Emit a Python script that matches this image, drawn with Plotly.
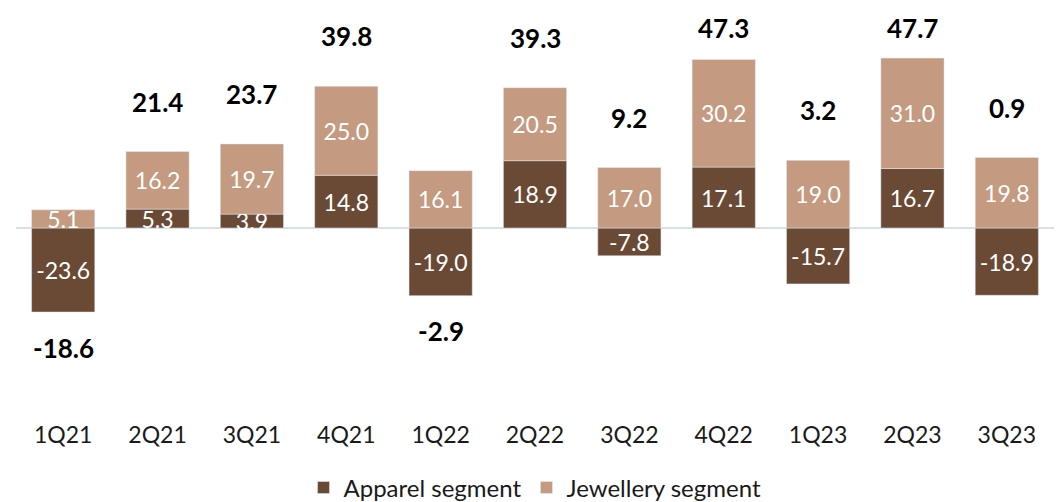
import plotly.graph_objects as go

quarters = ["1Q21", "2Q21", "3Q21", "4Q21", "1Q22", "2Q22", "3Q22", "4Q22", "1Q23", "2Q23", "3Q23"]
apparel = [-23.6, 5.3, 3.9, 14.8, -19.0, 18.9, -7.8, 17.1, -15.7, 16.7, -18.9]
jewellery = [5.1, 16.2, 19.7, 25.0, 16.1, 20.5, 17.0, 30.2, 19.0, 31.0, 19.8]
totals = [-18.6, 21.4, 23.7, 39.8, -2.9, 39.3, 9.2, 47.3, 3.2, 47.7, 0.9]

DARK = "#6B4A35"
LIGHT = "#C49A80"
FONT = "Lato"
Y_MIN, Y_MAX = -52.5, 61.2

fig = go.Figure()
fig.add_trace(go.Bar(
    x=quarters, y=apparel, name="Apparel segment", marker_color=DARK,
    texttemplate="%{y:.1f}", textposition="inside", insidetextanchor="middle",
    textfont=dict(color="white", size=23, family=FONT), constraintext="none",
    hoverinfo="x+y",
))
fig.add_trace(go.Bar(
    x=quarters, y=jewellery, name="Jewellery segment", marker_color=LIGHT,
    texttemplate="%{y:.1f}", textposition="inside", insidetextanchor="middle",
    textfont=dict(color="white", size=23, family=FONT), constraintext="none",
    hoverinfo="x+y",
))

# total labels: above the positive stack, below the negative stack
for q, a, j, t in zip(quarters, apparel, jewellery, totals):
    if t >= 0:
        top = max(a, 0) + max(j, 0)
        ly = min(top + 14.0, Y_MAX - 5.0)
    else:
        bottom = min(a, 0) + min(j, 0)
        ly = bottom - 10.0
    fig.add_annotation(x=q, y=ly, text=f"<b>{t:.1f}</b>", showarrow=False,
                       yanchor="middle",
                       font=dict(size=26, color="black", family=FONT))

fig.update_layout(
    barmode="relative",
    bargap=0.33,
    width=1063, height=502,
    margin=dict(l=16, r=9, t=10, b=87, autoexpand=False),
    paper_bgcolor="white", plot_bgcolor="white",
    font=dict(family=FONT, size=23, color="#1a1a1a"),
    uniformtext=dict(minsize=23, mode="show"),
    showlegend=True,
    legend=dict(orientation="h", x=0.5, xanchor="center", y=-0.18, yanchor="middle",
                font=dict(size=24, family=FONT, color="#1a1a1a"), itemwidth=30,
                traceorder="normal"),
)
fig.update_xaxes(showline=False, showgrid=False, ticks="", automargin=False,
                 ticklabelstandoff=4,
                 tickfont=dict(size=23, family=FONT, color="#1a1a1a"))
fig.update_yaxes(range=[Y_MIN, Y_MAX], visible=True, showticklabels=False, showgrid=False,
                 automargin=False, zeroline=True, zerolinecolor="#D9DEE8", zerolinewidth=2)

fig.write_html("out.html")
